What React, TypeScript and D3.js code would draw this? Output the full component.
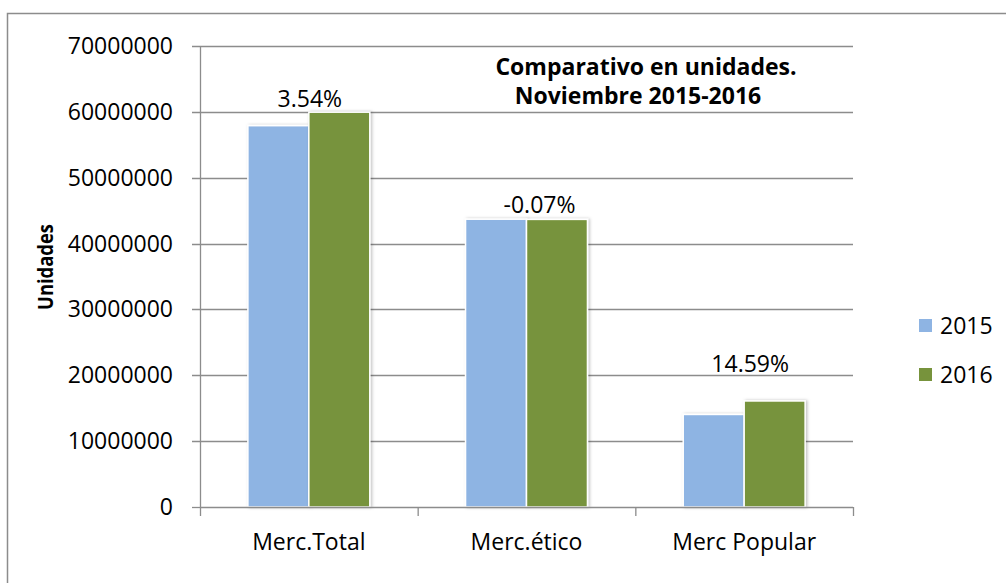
import React, { useEffect, useRef } from 'react'
import * as d3 from 'd3'

const categories = ['Merc.Total', 'Merc.ético', 'Merc Popular']
const years = ['2015', '2016']
const values2015 = [57900000, 43700000, 14050000]
const values2016 = [59950000, 43670000, 16100000]
const changeLabels = ['3.54%', '-0.07%', '14.59%']
const yTicks = [0, 10000000, 20000000, 30000000, 40000000, 50000000, 60000000, 70000000]

// labels were hand placed in the original, nudged from the group top
const labelNudge = [
  { dx: 1, dy: -5 },
  { dx: 13, dy: -6 },
  { dx: 6, dy: -29 },
]

const colors = ['#8EB4E3', '#77933C']
const FONT = '"Open Sans", "Noto Sans", sans-serif'

export default function App() {
  const ref = useRef<SVGSVGElement>(null)

  useEffect(() => {
    const svg = d3.select(ref.current)
    svg.selectAll('*').remove()

    const left = 200, right = 853, top = 46, bottom = 507

    const y = d3.scaleLinear().domain([0, 70000000]).range([bottom, top])
    const x0 = d3.scaleBand().domain(categories).range([left, right]).padding(0)
    const gap = x0.bandwidth() * 0.22
    const x1 = d3.scaleBand().domain(years).range([gap, x0.bandwidth() - gap]).padding(0)

    const defs = svg.append('defs')
    const f = defs.append('filter').attr('id', 'shadow')
      .attr('x', '-20%').attr('y', '-5%').attr('width', '140%').attr('height', '110%')
    f.append('feDropShadow')
      .attr('dx', 1.5).attr('dy', 0).attr('stdDeviation', 1.5)
      .attr('flood-color', '#000').attr('flood-opacity', 0.25)

    // chart border
    svg.append('rect')
      .attr('x', 7.5).attr('y', 13.5)
      .attr('width', 1200).attr('height', 800)
      .attr('fill', 'none').attr('stroke', '#8c8c8c').attr('stroke-width', 1.5)

    // gridlines + y labels
    const grid = svg.append('g')
    grid.selectAll('line').data(yTicks.filter(d => d > 0)).join('line')
      .attr('x1', left - 8).attr('x2', right)
      .attr('y1', d => Math.round(y(d)) + 0.5).attr('y2', d => Math.round(y(d)) + 0.5)
      .attr('stroke', '#8c8c8c').attr('stroke-width', 1.3)

    svg.append('g').selectAll('text').data(yTicks).join('text')
      .attr('x', 173).attr('y', d => y(d) + 8)
      .attr('text-anchor', 'end')
      .style('font-family', FONT).style('font-size', '23px').style('fill', '#000')
      .text(d => d3.format('d')(d))

    // y axis line and its left ticks
    svg.append('line')
      .attr('x1', left + 0.5).attr('x2', left + 0.5).attr('y1', top).attr('y2', bottom)
      .attr('stroke', '#8c8c8c').attr('stroke-width', 1.3)
    svg.append('line')
      .attr('x1', left - 8).attr('x2', left).attr('y1', bottom + 0.5).attr('y2', bottom + 0.5)
      .attr('stroke', '#8c8c8c').attr('stroke-width', 1.3)

    // bars
    const groups = svg.append('g').selectAll('g').data(categories).join('g')
      .attr('transform', d => `translate(${x0(d)},0)`)

    groups.selectAll('rect')
      .data((d, i) => [values2015[i], values2016[i]].map((v, j) => ({ year: years[j], v, j })))
      .join('rect')
      .attr('x', d => x1(d.year)!)
      .attr('width', x1.bandwidth())
      .attr('y', d => y(d.v))
      .attr('height', d => bottom - y(d.v))
      .attr('fill', d => colors[d.j])
      .attr('stroke', '#fff').attr('stroke-width', 1.5)
      .attr('filter', 'url(#shadow)')

    // x axis
    svg.append('line')
      .attr('x1', left).attr('x2', right).attr('y1', bottom + 0.5).attr('y2', bottom + 0.5)
      .attr('stroke', '#8c8c8c').attr('stroke-width', 1.3)
    svg.append('g').selectAll('line').data([...categories.map(c => x0(c)!), right]).join('line')
      .attr('x1', d => d + 0.5).attr('x2', d => d + 0.5).attr('y1', bottom).attr('y2', bottom + 9)
      .attr('stroke', '#8c8c8c').attr('stroke-width', 1.3)

    svg.append('g').selectAll('text').data(categories).join('text')
      .attr('x', d => x0(d)! + x0.bandwidth() / 2)
      .attr('y', 550)
      .attr('text-anchor', 'middle')
      .style('font-family', FONT).style('font-size', '23px').style('fill', '#000')
      .text(d => d)

    // change labels
    svg.append('g').selectAll('text').data(changeLabels).join('text')
      .attr('x', (d, i) => x0(categories[i])! + x0.bandwidth() / 2 + labelNudge[i].dx)
      .attr('y', (d, i) => y(Math.max(values2015[i], values2016[i])) + labelNudge[i].dy)
      .attr('text-anchor', 'middle')
      .style('font-family', FONT).style('font-size', '23px').style('fill', '#000')
      .text(d => d)

    // title
    const title = svg.append('text')
      .style('font-family', FONT).style('font-size', '23px').style('font-weight', 'bold')
      .attr('text-anchor', 'middle')
    title.append('tspan').attr('x', 646).attr('y', 75).text('Comparativo en unidades.')
    title.append('tspan').attr('x', 638).attr('y', 104).text('Noviembre 2015-2016')

    // y title
    svg.append('text')
      .attr('transform', 'translate(53,267) rotate(-90)')
      .attr('text-anchor', 'middle')
      .attr('textLength', 86).attr('lengthAdjust', 'spacingAndGlyphs')
      .style('font-family', FONT).style('font-size', '22px').style('font-weight', 'bold')
      .text('Unidades')

    // legend
    const legend = svg.append('g').selectAll('g').data(years).join('g')
      .attr('transform', (d, i) => `translate(919,${319 + i * 49})`)
    legend.append('rect')
      .attr('width', 13).attr('height', 13)
      .attr('fill', (d, i) => colors[i])
    legend.append('text')
      .attr('x', 21).attr('y', 15)
      .style('font-family', FONT).style('font-size', '23px').style('fill', '#000')
      .text(d => d)
  }, [])

  return (
    <svg ref={ref} width={1006} height={583}
      style={{ position: 'absolute', left: 0, top: 0, background: '#fff' }} />
  )
}
